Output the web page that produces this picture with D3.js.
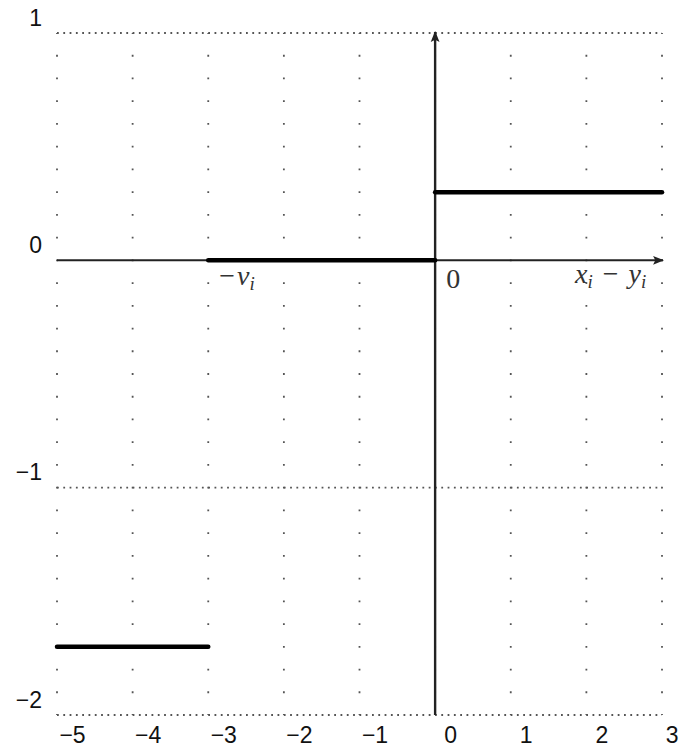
<!DOCTYPE html>
<html>
<head>
<meta charset="utf-8">
<script src="https://cdn.jsdelivr.net/npm/d3@7"></script>
<style>
  body { margin: 0; background: #fff; }
  .tick-label { font-family: "Liberation Sans", Arial, sans-serif; font-size: 23px; fill: #111; }
  .math { font-family: "Liberation Serif", "DejaVu Serif", serif; font-size: 28px; fill: #333; }
</style>
</head>
<body>
<div id="chart"></div>
<script>
document.addEventListener("DOMContentLoaded", () => {
  const svgWidth = 681;
  const svgHeight = 749;

  // tick values
  const xTicks = [-5, -4, -3, -2, -1, 0, 1, 2, 3];
  const yTicks = [-2, -1, 0, 1];
  const yDottedLines = [1, -1, -2];

  // step segments: [x0, x1, y]
  const segX0 = [-5, -3, 0];
  const segX1 = [-3, 0, 3];
  const segY = [-1.7, 0, 0.3];

  const x = d3.scaleLinear().domain([-5, 3]).range([57, 662]);
  const y = d3.scaleLinear().domain([-2, 1]).range([715, 33]);

  const svg = d3.select("#chart").append("svg")
    .attr("width", svgWidth)
    .attr("height", svgHeight);

  const defs = svg.append("defs");
  defs.append("marker")
    .attr("id", "arrow")
    .attr("viewBox", "0 0 10 10")
    .attr("refX", 9).attr("refY", 5)
    .attr("markerWidth", 11).attr("markerHeight", 11)
    .attr("markerUnits", "userSpaceOnUse")
    .attr("orient", "auto")
    .append("path")
    .attr("d", "M0,1 L10,5 L0,9 L2,5 Z")
    .attr("fill", "#222");

  // vertical grid: sparse dots every 0.1 units
  const period = y(0.9) - y(1);
  svg.append("g").selectAll("line")
    .data(xTicks)
    .join("line")
    .attr("x1", d => x(d)).attr("x2", d => x(d))
    .attr("y1", y(1)).attr("y2", y(-2))
    .attr("stroke", "#555")
    .attr("stroke-width", 1.8)
    .attr("stroke-dasharray", `1.8 ${period - 1.8}`)
    .attr("stroke-dashoffset", 0.9);

  // horizontal dense dotted lines
  svg.append("g").selectAll("line")
    .data(yDottedLines)
    .join("line")
    .attr("x1", x(-5)).attr("x2", x(3))
    .attr("y1", d => y(d)).attr("y2", d => y(d))
    .attr("stroke", "#555")
    .attr("stroke-width", 1.8)
    .attr("stroke-dasharray", "1.8 4.5");

  // x axis labels (shifted right of grid columns, as in the original)
  const xAxis = d3.axisBottom(x).tickValues(xTicks).tickSize(0).tickPadding(0)
    .tickFormat(d3.format("d"));
  const gx = svg.append("g")
    .attr("transform", `translate(15,${y(-2) + 28})`)
    .call(xAxis);
  gx.select(".domain").remove();
  gx.selectAll("text")
    .attr("class", "tick-label")
    .attr("dy", 0)
    .attr("fill", null);
  // last label sits at the right edge, keep it inside the picture
  gx.selectAll(".tick").filter(d => d === 3).select("text")
    .attr("text-anchor", "end").attr("x", 1);

  // y axis labels (shifted above the lines)
  const yAxis = d3.axisLeft(y).tickValues(yTicks).tickSize(0).tickPadding(0)
    .tickFormat(d3.format("d"));
  const gy = svg.append("g")
    .attr("transform", "translate(42,-8)")
    .call(yAxis);
  gy.select(".domain").remove();
  gy.selectAll("text")
    .attr("class", "tick-label")
    .attr("dy", 0)
    .attr("fill", null);

  // main axes with arrows
  svg.append("line")
    .attr("x1", x(-5)).attr("x2", x(3) + 1)
    .attr("y1", y(0)).attr("y2", y(0))
    .attr("stroke", "#222").attr("stroke-width", 2)
    .attr("marker-end", "url(#arrow)");
  svg.append("line")
    .attr("x1", x(0)).attr("x2", x(0))
    .attr("y1", y(-2)).attr("y2", y(1) - 1)
    .attr("stroke", "#222").attr("stroke-width", 2.4)
    .attr("marker-end", "url(#arrow)");

  // thick step segments
  svg.append("g").selectAll("line")
    .data(segY)
    .join("line")
    .attr("x1", (d, i) => x(segX0[i]))
    .attr("x2", (d, i) => x(segX1[i]))
    .attr("y1", d => y(d)).attr("y2", d => y(d))
    .attr("stroke", "#000")
    .attr("stroke-width", 4.5)
    .attr("stroke-linecap", "round");

  // math annotations
  const nu = svg.append("text").attr("class", "math")
    .attr("x", x(-3) + 11).attr("y", y(0) + 25);
  nu.append("tspan").text("\u2212");
  nu.append("tspan").attr("font-style", "italic").attr("dx", 2).text("\u03bd");
  nu.append("tspan").attr("font-style", "italic").attr("font-size", 19).attr("dy", 5).text("i");

  svg.append("text").attr("class", "math")
    .attr("x", x(0) + 11).attr("y", y(0) + 28)
    .text("0");

  const xy = svg.append("text").attr("class", "math")
    .attr("x", 575).attr("y", y(0) + 23);
  xy.append("tspan").attr("font-style", "italic").text("x");
  xy.append("tspan").attr("font-style", "italic").attr("font-size", 19).attr("dy", 5).text("i");
  xy.append("tspan").attr("dy", -5).attr("dx", 10).text("\u2212");
  xy.append("tspan").attr("font-style", "italic").attr("dx", 10).text("y");
  xy.append("tspan").attr("font-style", "italic").attr("font-size", 19).attr("dy", 5).text("i");
});
</script>
</body>
</html>
